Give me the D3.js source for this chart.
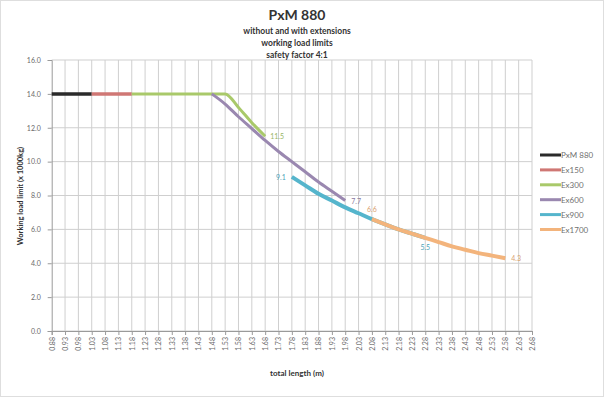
<!DOCTYPE html>
<html>
<head>
<meta charset="utf-8">
<script src="https://cdn.jsdelivr.net/npm/d3@7"></script>
<style>
  body { margin: 0; background: #fff; }
  text { font-family: Lato, "Liberation Sans", sans-serif; }
</style>
</head>
<body>
<script>
// category axis (total length in m)
const lengths = ["0.88","0.93","0.98","1.03","1.08","1.13","1.18","1.23","1.28","1.33","1.38","1.43","1.48",
  "1.53","1.58","1.63","1.68","1.73","1.78","1.83","1.88","1.93","1.98","2.03","2.08","2.13","2.18","2.23",
  "2.28","2.33","2.38","2.43","2.48","2.53","2.58","2.63","2.68"];
const yTicks = [0, 2, 4, 6, 8, 10, 12, 14, 16];

const pxmLen = ["0.88","0.93","0.98","1.03"];
const pxmVal = [14, 14, 14, 14];

const ex150Len = ["1.03","1.08","1.13","1.18"];
const ex150Val = [14, 14, 14, 14];

const ex300Len = ["1.18","1.23","1.28","1.33","1.38","1.43","1.48","1.53","1.58","1.63","1.68"];
const ex300Val = [14, 14, 14, 14, 14, 14, 14, 14, 13.2, 12.3, 11.5];

const ex600Len = ["1.48","1.53","1.58","1.63","1.68","1.73","1.78","1.83","1.88","1.93","1.98"];
const ex600Val = [14, 13.4, 12.65, 11.95, 11.25, 10.6, 10.0, 9.4, 8.8, 8.25, 7.7];

const ex900Len = ["1.78","1.83","1.88","1.93","1.98","2.03","2.08","2.13","2.18","2.23","2.28"];
const ex900Val = [9.1, 8.6, 8.1, 7.7, 7.3, 6.95, 6.6, 6.3, 6.0, 5.75, 5.5];

const ex1700Len = ["2.08","2.13","2.18","2.23","2.28","2.33","2.38","2.43","2.48","2.53","2.58"];
const ex1700Val = [6.6, 6.3, 6.0, 5.75, 5.5, 5.25, 5.0, 4.8, 4.6, 4.45, 4.3];

const seriesNames = ["PxM 880", "Ex150", "Ex300", "Ex600", "Ex900", "Ex1700"];
const colors = ["#2a2a2a", "#cf7774", "#a9c96a", "#9a88b0", "#55b5cc", "#f3b47c"];

const width = 604, height = 397;
const plotLeft = 51.7, plotRight = 532, plotTop = 60, plotBottom = 331;

const svg = d3.select("body").append("svg")
  .attr("width", width)
  .attr("height", height);

svg.append("rect")
  .attr("x", 0.5).attr("y", 0.5)
  .attr("width", width - 1).attr("height", height - 1)
  .attr("fill", "#fff")
  .attr("stroke", "#dedede");

const x = d3.scalePoint().domain(lengths).range([plotLeft, plotRight]);
const y = d3.scaleLinear().domain([0, 16]).range([plotBottom, plotTop]);

// gridlines
svg.append("g").selectAll("line").data(yTicks).join("line")
  .attr("x1", plotLeft).attr("x2", plotRight)
  .attr("y1", d => y(d)).attr("y2", d => y(d))
  .attr("stroke", "#cfcfcf");

svg.append("g").selectAll("line").data(lengths.slice(1)).join("line")
  .attr("x1", d => x(d)).attr("x2", d => x(d))
  .attr("y1", plotTop).attr("y2", plotBottom)
  .attr("stroke", "#cfcfcf");

// axes
const yAxis = svg.append("g")
  .attr("transform", `translate(${plotLeft},0)`)
  .call(d3.axisLeft(y).tickValues(yTicks).tickFormat(d3.format(".1f")).tickSize(4).tickPadding(7));
const xAxis = svg.append("g")
  .attr("transform", `translate(0,${plotBottom})`)
  .call(d3.axisBottom(x).tickSize(4).tickPadding(3));

[yAxis, xAxis].forEach(a => {
  a.select(".domain").attr("stroke", "#9a9a9a");
  a.selectAll(".tick line").attr("stroke", "#9a9a9a");
  a.selectAll("text").attr("fill", "#6a6a6a").attr("font-size", 7);
});
xAxis.selectAll("text")
  .attr("text-anchor", "end")
  .attr("transform", "rotate(-90)")
  .attr("x", -6).attr("y", 0).attr("dy", "0.35em");

// series lines
const all = [
  [pxmLen, pxmVal], [ex150Len, ex150Val], [ex300Len, ex300Val],
  [ex600Len, ex600Val], [ex900Len, ex900Val], [ex1700Len, ex1700Val]
];
const widths = [3.5, 3.5, 3, 3, 4, 4];

const line = d3.line()
  .x(d => x(d[0]))
  .y(d => y(d[1]))
  .curve(d3.curveMonotoneX);

all.forEach((s, i) => {
  const pts = s[0].map((l, j) => [l, s[1][j]]);
  svg.append("path")
    .datum(pts)
    .attr("fill", "none")
    .attr("stroke", colors[i])
    .attr("stroke-width", widths[i])
    .attr("stroke-linejoin", "round")
    .attr("d", line);
});

// data labels
const labels = [
  { s: 2, at: "1.68", v: 11.5, dx: 5, dy: 3, anchor: "start" },
  { s: 3, at: "1.98", v: 7.7, dx: 6, dy: 3, anchor: "start" },
  { s: 4, at: "1.78", v: 9.1, dx: -6, dy: 3, anchor: "end" },
  { s: 5, at: "2.08", v: 6.6, dx: 0, dy: -7, anchor: "middle" },
  { s: 4, at: "2.28", v: 5.5, dx: 0, dy: 12, anchor: "middle" },
  { s: 5, at: "2.58", v: 4.3, dx: 6, dy: 3, anchor: "start" }
];
svg.append("g").selectAll("text").data(labels).join("text")
  .attr("x", d => x(d.at) + d.dx)
  .attr("y", d => y(d.v) + d.dy)
  .attr("text-anchor", d => d.anchor)
  .attr("font-size", 7)
  .attr("fill", d => d3.color(colors[d.s]).darker(0.3))
  .text(d => d.v.toFixed(1));

// legend
const legend = svg.append("g").attr("transform", "translate(540,155)");
seriesNames.forEach((n, i) => {
  const g = legend.append("g").attr("transform", `translate(0,${i * 14.9})`);
  g.append("line")
    .attr("x1", 0).attr("x2", 21)
    .attr("stroke", colors[i])
    .attr("stroke-width", 3);
  g.append("text")
    .attr("x", 21).attr("y", 3)
    .attr("font-size", 8)
    .attr("fill", "#707070")
    .text(n);
});

// titles
svg.append("text")
  .attr("x", 297).attr("y", 20)
  .attr("text-anchor", "middle")
  .attr("font-size", 14).attr("font-weight", "bold")
  .attr("fill", "#333")
  .text("PxM 880");

["without and with extensions", "working load limits", "safety factor 4:1"].forEach((t, i) => {
  svg.append("text")
    .attr("x", 297).attr("y", 34 + i * 12)
    .attr("text-anchor", "middle")
    .attr("font-size", 8.5).attr("font-weight", "bold")
    .attr("fill", "#333")
    .text(t);
});

svg.append("text")
  .attr("transform", "translate(23,196) rotate(-90)")
  .attr("text-anchor", "middle")
  .attr("font-size", 7.5).attr("font-weight", "bold")
  .attr("fill", "#333")
  .text("Working load limit (x 1000kg)");

svg.append("text")
  .attr("x", 297).attr("y", 376)
  .attr("text-anchor", "middle")
  .attr("font-size", 8).attr("font-weight", "bold")
  .attr("fill", "#333")
  .text("total length (m)");
</script>
</body>
</html>
